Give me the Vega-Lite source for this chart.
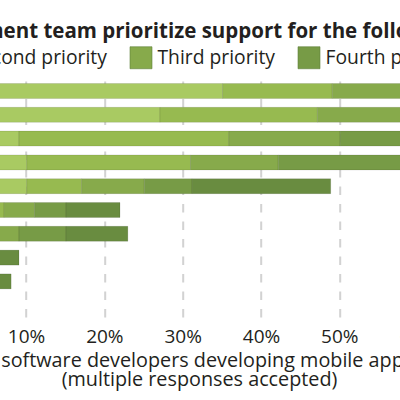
{
  "$schema": "https://vega.github.io/schema/vega-lite/v6.json",
  "autosize": "none",
  "width": 626.6,
  "height": 238,
  "padding": {"left": -52.3, "top": 79.1, "right": -174.3, "bottom": 82.9},
  "background": "white",
  "title": {
    "text": "How does your development team prioritize support for the following platforms?",
    "anchor": "start",
    "frame": "group",
    "dx": -202,
    "fontSize": 20.5,
    "fontWeight": "bold",
    "font": "Open Sans",
    "color": "#231f20"
  },
  "data": {
    "values": [
      {"platform": "iPhone", "priority": "First priority", "rank": 1, "share": 35.1},
      {"platform": "iPhone", "priority": "Second priority", "rank": 2, "share": 14.0},
      {"platform": "iPhone", "priority": "Third priority", "rank": 3, "share": 12.0},
      {"platform": "iPhone", "priority": "Fourth priority", "rank": 4, "share": 7.0},
      {"platform": "iPhone", "priority": "Fifth priority", "rank": 5, "share": 4.0},
      {"platform": "Android phone", "priority": "First priority", "rank": 1, "share": 27.1},
      {"platform": "Android phone", "priority": "Second priority", "rank": 2, "share": 20.1},
      {"platform": "Android phone", "priority": "Third priority", "rank": 3, "share": 14.0},
      {"platform": "Android phone", "priority": "Fourth priority", "rank": 4, "share": 7.0},
      {"platform": "Android phone", "priority": "Fifth priority", "rank": 5, "share": 4.0},
      {"platform": "iPad", "priority": "First priority", "rank": 1, "share": 9.1},
      {"platform": "iPad", "priority": "Second priority", "rank": 2, "share": 26.8},
      {"platform": "iPad", "priority": "Third priority", "rank": 3, "share": 14.2},
      {"platform": "iPad", "priority": "Fourth priority", "rank": 4, "share": 12.0},
      {"platform": "iPad", "priority": "Fifth priority", "rank": 5, "share": 5.0},
      {"platform": "Android tablet", "priority": "First priority", "rank": 1, "share": 10.1},
      {"platform": "Android tablet", "priority": "Second priority", "rank": 2, "share": 20.9},
      {"platform": "Android tablet", "priority": "Third priority", "rank": 3, "share": 11.2},
      {"platform": "Android tablet", "priority": "Fourth priority", "rank": 4, "share": 16.0},
      {"platform": "Android tablet", "priority": "Fifth priority", "rank": 5, "share": 5.0},
      {"platform": "Mobile web (HTML5)", "priority": "First priority", "rank": 1, "share": 10.1},
      {"platform": "Mobile web (HTML5)", "priority": "Second priority", "rank": 2, "share": 7.0},
      {"platform": "Mobile web (HTML5)", "priority": "Third priority", "rank": 3, "share": 8.0},
      {"platform": "Mobile web (HTML5)", "priority": "Fourth priority", "rank": 4, "share": 6.1},
      {"platform": "Mobile web (HTML5)", "priority": "Fifth priority", "rank": 5, "share": 17.7},
      {"platform": "Windows Phone", "priority": "First priority", "rank": 1, "share": 3.0},
      {"platform": "Windows Phone", "priority": "Second priority", "rank": 2, "share": 4.2},
      {"platform": "Windows Phone", "priority": "Third priority", "rank": 3, "share": 3.9},
      {"platform": "Windows Phone", "priority": "Fourth priority", "rank": 4, "share": 4.0},
      {"platform": "Windows Phone", "priority": "Fifth priority", "rank": 5, "share": 6.9},
      {"platform": "BlackBerry", "priority": "First priority", "rank": 1, "share": 2.0},
      {"platform": "BlackBerry", "priority": "Second priority", "rank": 2, "share": 3.0},
      {"platform": "BlackBerry", "priority": "Third priority", "rank": 3, "share": 4.1},
      {"platform": "BlackBerry", "priority": "Fourth priority", "rank": 4, "share": 6.0},
      {"platform": "BlackBerry", "priority": "Fifth priority", "rank": 5, "share": 7.9},
      {"platform": "Symbian", "priority": "First priority", "rank": 1, "share": 1.0},
      {"platform": "Symbian", "priority": "Second priority", "rank": 2, "share": 1.5},
      {"platform": "Symbian", "priority": "Third priority", "rank": 3, "share": 1.5},
      {"platform": "Symbian", "priority": "Fourth priority", "rank": 4, "share": 1.5},
      {"platform": "Symbian", "priority": "Fifth priority", "rank": 5, "share": 3.6},
      {"platform": "bada", "priority": "First priority", "rank": 1, "share": 1.0},
      {"platform": "bada", "priority": "Second priority", "rank": 2, "share": 1.0},
      {"platform": "bada", "priority": "Third priority", "rank": 3, "share": 1.5},
      {"platform": "bada", "priority": "Fourth priority", "rank": 4, "share": 1.5},
      {"platform": "bada", "priority": "Fifth priority", "rank": 5, "share": 3.1},
      {"platform": "Other", "priority": "First priority", "rank": 1, "share": 0.5},
      {"platform": "Other", "priority": "Second priority", "rank": 2, "share": 0.5},
      {"platform": "Other", "priority": "Third priority", "rank": 3, "share": 1.0},
      {"platform": "Other", "priority": "Fourth priority", "rank": 4, "share": 1.0},
      {"platform": "Other", "priority": "Fifth priority", "rank": 5, "share": 1.5}
    ]
  },
  "mark": {"type": "bar", "stroke": "#000", "strokeOpacity": 0.1, "strokeWidth": 1},
  "encoding": {
    "y": {
      "field": "platform", "type": "nominal", "sort": null,
      "scale": {"paddingInner": 0.37, "paddingOuter": 0.185},
      "axis": {"title": null, "domain": false, "ticks": false, "labelFontSize": 19, "labelFont": "Open Sans", "labelColor": "#231f20"}
    },
    "x": {
      "field": "share", "type": "quantitative", "stack": "zero",
      "scale": {"domain": [0, 80], "nice": false},
      "axis": {
        "title": ["Share of software developers developing mobile applications", "(multiple responses accepted)"],
        "titleX": 251.3,
        "titleFont": "Open Sans", "titleFontSize": 19.8, "titleFontWeight": "normal", "titleColor": "#231f20",
        "titleLineHeight": 19.5, "titlePadding": 4,
        "values": [0, 10, 20, 30, 40, 50, 60, 70, 80],
        "labelExpr": "datum.value + '%'",
        "labelFont": "Open Sans", "labelFontSize": 19, "labelColor": "#231f20", "labelPadding": 10,
        "domain": false, "ticks": false,
        "grid": true, "gridColor": "#d2d2d2", "gridWidth": 2, "gridDash": [8.5, 9]
      }
    },
    "color": {
      "field": "priority", "type": "nominal",
      "scale": {
        "domain": ["First priority", "Second priority", "Third priority", "Fourth priority", "Fifth priority"],
        "range": ["#a9ca62", "#97ba50", "#87aa4b", "#779b46", "#698c40"]
      },
      "legend": {
        "title": null, "orient": "none", "direction": "horizontal",
        "legendX": -165.2, "legendY": -33,
        "symbolType": "square", "symbolSize": 484, "symbolStrokeColor": "#5f7f3a", "symbolStrokeWidth": 0.6,
        "labelFont": "Open Sans", "labelFontSize": 19.3, "labelColor": "#231f20",
        "labelOffset": 5, "columnPadding": 21, "labelLimit": 300
      }
    },
    "order": {"field": "rank", "type": "quantitative"}
  },
  "config": {"view": {"stroke": null}}
}
